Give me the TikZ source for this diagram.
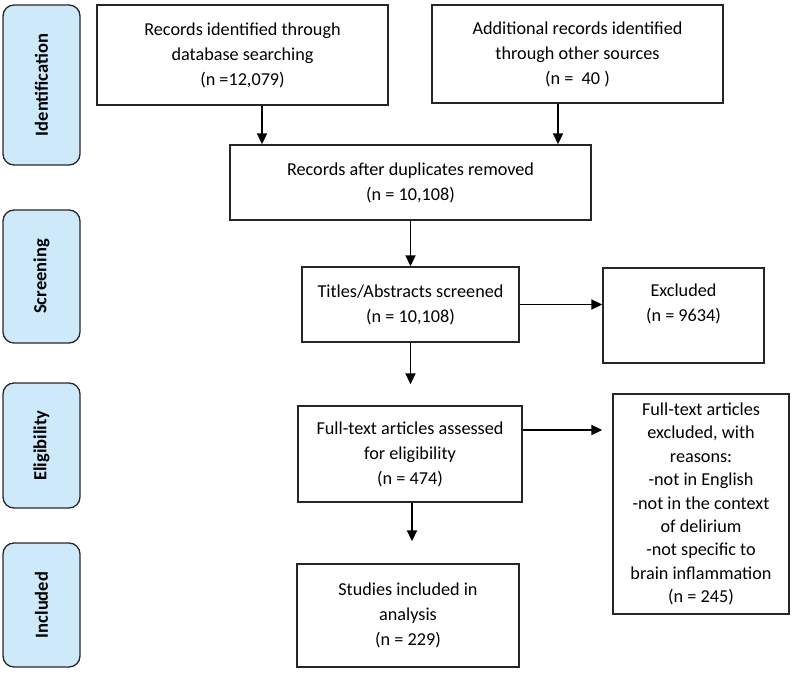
\documentclass[tikz,border=0pt]{standalone}
\usepackage{fontspec}
\setmainfont{Carlito}
\usetikzlibrary{arrows.meta}
\definecolor{phasefill}{RGB}{205,233,250}
\definecolor{phaseline}{RGB}{40,40,40}
\begin{document}
\begin{tikzpicture}[x=1pt,y=-1pt,
  box/.style={draw=black!85, line width=1.4pt, align=center, inner sep=2pt,
    font=\fontsize{18.2}{25}\selectfont},
  phase/.style={draw=phaseline, fill=phasefill, rounded corners=11pt, line width=1.3pt,
    rotate=90, font=\bfseries\fontsize{18.5}{20}\selectfont, minimum height=77pt, inner sep=0pt},
  arr/.style={-{Triangle[length=11pt,width=10pt]}, line width=1.9pt}]
\useasboundingbox (0,0) rectangle (793,674);

% phase labels
\node[phase, minimum width=160pt] (pid) at (41.5,85) {Identification};
\node[phase, minimum width=133pt] (pscr) at (41.5,276.5) {Screening};
\node[phase, minimum width=125pt] (pel) at (41.5,445.5) {Eligibility};
\node[phase, minimum width=124pt] (pin) at (41.5,605) {Included};

% boxes
\node[box, minimum width=291pt, minimum height=100pt] (id1) at (242.5,55)
  {Records identified through\\database searching\\(n =12,079)};
\node[box, minimum width=291pt, minimum height=98pt] (id2) at (577.5,54)
  {Additional records identified\\through other sources\\(n =~ 40 )};
\node[box, minimum width=361pt, minimum height=75pt] (dup) at (410.5,182.5)
  {Records after duplicates removed\\(n = 10,108)};
\node[box, minimum width=217pt, minimum height=75pt] (scr) at (410.5,304.5)
  {Titles/Abstracts screened\\(n = 10,108)};
\node[box, minimum width=161pt, minimum height=95pt] (exc) at (683.5,315.5)
  {Excluded\\(n = 9634)\\\mbox{}};
\node[box, minimum width=224pt, minimum height=96pt] (full) at (410,454)
  {Full-text articles assessed\\for eligibility\\(n = 474)};
\node[box, minimum width=176pt, minimum height=220pt, font=\fontsize{18.2}{23.4}\selectfont] (fex) at (701,504)
  {Full-text articles\\excluded, with\\reasons:\\-not in English\\-not in the context\\of delirium\\-not specific to\\brain inflammation\\(n = 245)};
\node[box, minimum width=222pt, minimum height=103pt] (inc) at (408,615.5)
  {Studies included in\\analysis\\(n = 229)};

% arrows
\draw[arr] ([xshift=19.5pt]id1.south) -- ([xshift=19.5pt]id1.south |- dup.north);
\draw[arr] ([xshift=-19.5pt]id2.south) -- ([xshift=-19.5pt]id2.south |- dup.north);
\draw[arr] (dup.south) -- (dup.south |- scr.north);
\draw[arr] (scr.east) -- (scr.east -| exc.west);
\draw[arr, shorten >=21pt] (scr.south) -- (scr.south |- full.north);
\draw[arr, shorten >=10pt] ([yshift=24pt]full.east) -- ([yshift=24pt]full.east -| fex.west);
\draw[arr, shorten >=22pt] ([xshift=2pt]full.south) -- ([xshift=2pt]full.south |- inc.north);
\end{tikzpicture}
\end{document}
